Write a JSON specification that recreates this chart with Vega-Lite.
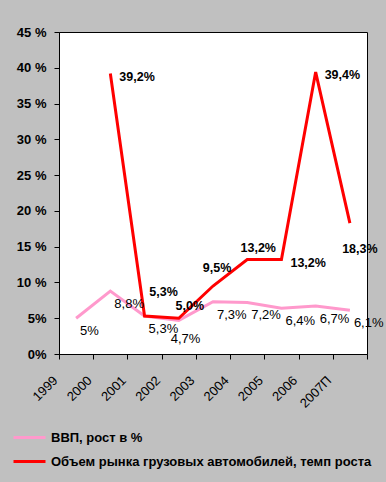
{
  "$schema": "https://vega.github.io/schema/vega-lite/v6.json",
  "width": 308,
  "height": 322,
  "autosize": {"type": "none"},
  "padding": {"left": 59, "top": 32, "right": 19, "bottom": 128},
  "background": "#C0C0C0",
  "config": {
    "font": "Liberation Sans",
    "view": {"fill": "#FFFFFF", "stroke": "#000000", "strokeWidth": 1},
    "axis": {"domainColor": "#000000", "tickColor": "#000000", "labelColor": "#000000", "grid": false}
  },
  "data": {
    "values": [
      {"year": "1999", "series": "ВВП, рост в %", "value": 5.0, "label": "5%"},
      {"year": "2000", "series": "ВВП, рост в %", "value": 8.8, "label": "8,8%"},
      {"year": "2001", "series": "ВВП, рост в %", "value": 5.3, "label": "5,3%"},
      {"year": "2002", "series": "ВВП, рост в %", "value": 4.7, "label": "4,7%"},
      {"year": "2003", "series": "ВВП, рост в %", "value": 7.3, "label": "7,3%"},
      {"year": "2004", "series": "ВВП, рост в %", "value": 7.2, "label": "7,2%"},
      {"year": "2005", "series": "ВВП, рост в %", "value": 6.4, "label": "6,4%"},
      {"year": "2006", "series": "ВВП, рост в %", "value": 6.7, "label": "6,7%"},
      {"year": "2007П", "series": "ВВП, рост в %", "value": 6.1, "label": "6,1%"},
      {"year": "2000", "series": "Объем рынка грузовых автомобилей, темп роста", "value": 39.2, "label": "39,2%"},
      {"year": "2001", "series": "Объем рынка грузовых автомобилей, темп роста", "value": 5.3, "label": "5,3%"},
      {"year": "2002", "series": "Объем рынка грузовых автомобилей, темп роста", "value": 5.0, "label": "5,0%"},
      {"year": "2003", "series": "Объем рынка грузовых автомобилей, темп роста", "value": 9.5, "label": "9,5%"},
      {"year": "2004", "series": "Объем рынка грузовых автомобилей, темп роста", "value": 13.2, "label": "13,2%"},
      {"year": "2005", "series": "Объем рынка грузовых автомобилей, темп роста", "value": 13.2, "label": "13,2%"},
      {"year": "2006", "series": "Объем рынка грузовых автомобилей, темп роста", "value": 39.4, "label": "39,4%"},
      {"year": "2007П", "series": "Объем рынка грузовых автомобилей, темп роста", "value": 18.3, "label": "18,3%"}
    ]
  },
  "encoding": {
    "x": {
      "field": "year", "type": "nominal", "sort": null,
      "scale": {"type": "band", "paddingInner": 0, "paddingOuter": 0},
      "axis": {"title": null, "labelAngle": -45, "labelAlign": "right", "labelBaseline": "middle",
               "labelFontSize": 13, "labelPadding": 19, "labelOffset": -21, "tickSize": 5, "tickBand": "extent"}
    },
    "y": {
      "field": "value", "type": "quantitative",
      "scale": {"domain": [0, 45], "nice": false},
      "axis": {"title": null, "values": [0, 5, 10, 15, 20, 25, 30, 35, 40, 45], "tickSize": 5, "labelPadding": 8,
               "labelFontSize": 13, "labelFontWeight": "bold",
               "labelExpr": "datum.value >= 10 ? datum.value + ' %' : datum.value + '%'"}
    }
  },
  "layer": [
    {
      "mark": {"type": "line", "strokeWidth": 3},
      "encoding": {
        "color": {
          "field": "series", "type": "nominal",
          "scale": {"domain": ["ВВП, рост в %", "Объем рынка грузовых автомобилей, темп роста"], "range": ["#FF99CC", "#FF0000"]},
          "legend": {"title": null, "orient": "none", "legendX": -47, "legendY": 396, "direction": "vertical",
                     "symbolType": "M-1,0H3", "symbolSize": 256, "symbolStrokeWidth": 3, "padding": 0,
                     "labelFontSize": 13, "labelFontWeight": "bold", "labelColor": "#000000", "labelLimit": 400,
                     "labelOffset": 20, "rowPadding": 7}
        }
      }
    },
    {
      "transform": [{"filter": "datum.series == 'ВВП, рост в %' && datum.year != '2002'"}],
      "mark": {"type": "text", "align": "left", "baseline": "middle", "dx": 4, "dy": 13, "fontSize": 13, "color": "#000000"},
      "encoding": {"text": {"field": "label"}}
    },
    {
      "transform": [{"filter": "datum.series == 'ВВП, рост в %' && datum.year == '2002'"}],
      "mark": {"type": "text", "align": "left", "baseline": "middle", "dx": -8, "dy": 19, "fontSize": 13, "color": "#000000"},
      "encoding": {"text": {"field": "label"}}
    },
    {
      "transform": [{"filter": "datum.series != 'ВВП, рост в %' && indexof(['2000','2005','2006'], datum.year) >= 0"}],
      "mark": {"type": "text", "align": "left", "baseline": "middle", "dx": 9, "dy": 3, "fontSize": 12.5, "fontWeight": "bold", "color": "#000000"},
      "encoding": {"text": {"field": "label"}}
    },
    {
      "transform": [{"filter": "datum.series != 'ВВП, рост в %' && datum.year == '2001'"}],
      "mark": {"type": "text", "align": "center", "baseline": "middle", "dx": 19, "dy": -24, "fontSize": 12.5, "fontWeight": "bold", "color": "#000000"},
      "encoding": {"text": {"field": "label"}}
    },
    {
      "transform": [{"filter": "datum.series != 'ВВП, рост в %' && indexof(['2002','2004'], datum.year) >= 0"}],
      "mark": {"type": "text", "align": "center", "baseline": "middle", "dx": 11, "dy": -12, "fontSize": 12.5, "fontWeight": "bold", "color": "#000000"},
      "encoding": {"text": {"field": "label"}}
    },
    {
      "transform": [{"filter": "datum.series != 'ВВП, рост в %' && datum.year == '2003'"}],
      "mark": {"type": "text", "align": "center", "baseline": "middle", "dx": 4, "dy": -18, "fontSize": 12.5, "fontWeight": "bold", "color": "#000000"},
      "encoding": {"text": {"field": "label"}}
    },
    {
      "transform": [{"filter": "datum.series != 'ВВП, рост в %' && datum.year == '2007П'"}],
      "mark": {"type": "text", "align": "center", "baseline": "middle", "dx": 10, "dy": 26, "fontSize": 12.5, "fontWeight": "bold", "color": "#000000"},
      "encoding": {"text": {"field": "label"}}
    }
  ]
}
